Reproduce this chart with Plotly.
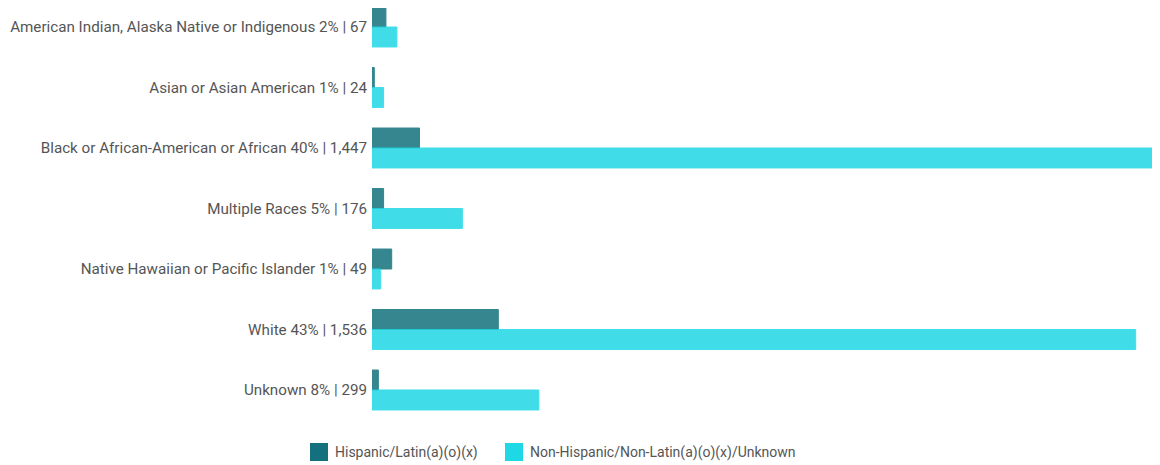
import plotly.graph_objects as go

categories = [
    "American Indian, Alaska Native or Indigenous 2% | 67",
    "Asian or Asian American 1% | 24",
    "Black or African-American or African 40% | 1,447",
    "Multiple Races 5% | 176",
    "Native Hawaiian or Pacific Islander 1% | 49",
    "White 43% | 1,536",
    "Unknown 8% | 299",
]
series_names = ["Hispanic/Latin(a)(o)(x)", "Non-Hispanic/Non-Latin(a)(o)(x)/Unknown"]
hispanic = [24, 4, 82, 20, 34, 218, 11]
non_hispanic = [43, 20, 1365, 156, 15, 1318, 288]
colors = ["#12717c", "#1fd8e6"]

# page has an 8px body margin, so the figure is drawn 8px right/down
OFF = 8
W, H = 1160, 465 - OFF
ML, MR, MT, MB = 372 - OFF, 0, 0, 45
PW, PH = W - ML - MR, H - MT - MB
XMAX = 1360 * PW / 788.0

fig = go.Figure()
for name, vals, col in zip(series_names, [hispanic, non_hispanic], colors):
    fig.add_trace(go.Bar(
        y=categories, x=vals, name=name, orientation="h",
        marker=dict(color=col, opacity=0.85, line=dict(color=col, width=1)),
        showlegend=False, hoverinfo="x+name",
    ))

def px_to_paper_x(px):
    return (px - OFF - ML) / PW

def px_to_paper_y(py):
    return (H - MB - (py - OFF)) / PH

legend_x = [310, 505]
sq = 18
cy = 452
for name, col, lx in zip(series_names, colors, legend_x):
    fig.add_shape(type="rect", xref="paper", yref="paper",
                  x0=px_to_paper_x(lx), x1=px_to_paper_x(lx + sq),
                  y0=px_to_paper_y(cy + sq / 2), y1=px_to_paper_y(cy - sq / 2),
                  fillcolor=col, line=dict(width=0))
    fig.add_annotation(xref="paper", yref="paper",
                       x=px_to_paper_x(lx + sq + 5), y=px_to_paper_y(cy),
                       text=name, showarrow=False, xanchor="left", yanchor="middle",
                       font=dict(family="Roboto", size=14, color="#555555"))

fig.update_layout(
    width=W, height=H,
    margin=dict(l=ML, r=MR, t=MT, b=MB, pad=0),
    barmode="group", bargap=0.34, bargroupgap=0,
    plot_bgcolor="white", paper_bgcolor="white",
    font=dict(family="Roboto", size=15.2, color="#555555"),
    xaxis=dict(range=[0, XMAX], showgrid=False, zeroline=False, showticklabels=False,
               showline=False, fixedrange=True),
    yaxis=dict(range=[6.496, -0.314], showgrid=False, zeroline=False, showline=False,
               ticks="", ticklabelstandoff=4, tickfont=dict(family="Roboto", size=15.2, color="#555555")),
)

fig.write_html("out.html")
